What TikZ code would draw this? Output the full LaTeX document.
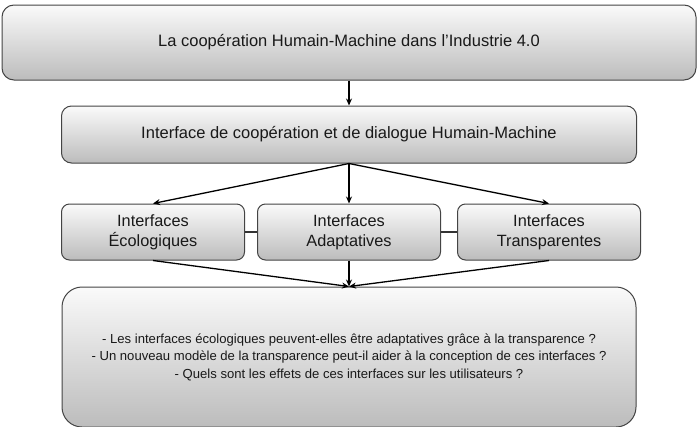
\documentclass[tikz,border=0pt]{standalone}
\usepackage{fontspec}
\setmainfont{Liberation Sans}
\usepackage{tikz}
\usetikzlibrary{arrows.meta, positioning}
\definecolor{boxborder}{RGB}{68, 68, 68}
\definecolor{boxtop}{RGB}{250, 250, 250}
\definecolor{boxbottom}{RGB}{188, 188, 188}
\definecolor{textcol}{RGB}{25, 25, 25}
\tikzset{
  baseblock/.style={
    rectangle, draw=boxborder, line width=1pt,
    top color=boxtop, bottom color=boxbottom,
    align=center, text=textcol, inner sep=0pt
  },
  titleblock/.style={baseblock, rounded corners=12pt, font=\fontsize{16.5}{19}\selectfont},
  layerblock/.style={baseblock, rounded corners=10pt, font=\fontsize{16.5}{19}\selectfont},
  familyblock/.style={baseblock, rounded corners=8pt, minimum width=183pt, minimum height=56pt,
    font=\fontsize{16.3}{20}\selectfont},
  questionblock/.style={baseblock, rounded corners=20pt, font=\fontsize{13.1}{17.5}\selectfont},
  flowline/.style={draw=black, -{Stealth[length=7pt, width=6pt]}, line width=1.3pt},
  linkline/.style={draw=black!80, line width=1.3pt}
}
\begin{document}
\begin{tikzpicture}[x=1pt, y=-1pt, node distance=25pt and 12pt]
  \useasboundingbox (0,0) rectangle (698,426);

  % Level 1: overall theme
  \node[titleblock, minimum width=694pt, minimum height=75pt] (theme) at (349,42.5)
    {La coopération Humain-Machine dans l’Industrie 4.0};

  % Level 2: cooperation interface
  \node[layerblock, below=25pt of theme, minimum width=575pt, minimum height=57pt] (dialogue)
    {Interface de coopération et de dialogue Humain-Machine};

  % Level 3: three interface families
  \node[familyblock, below=40pt of dialogue] (adapt) {Interfaces\\Adaptatives};
  \node[familyblock, left=12pt of adapt] (eco) {Interfaces\\Écologiques};
  \node[familyblock, right=16pt of adapt] (transp) {Interfaces\\Transparentes};

  % Level 4: research questions
  \node[questionblock, below=26pt of adapt, minimum width=574pt, minimum height=140pt] (questions) {
    - Les interfaces écologiques peuvent-elles être adaptatives grâce à la transparence ?\\
    - Un nouveau modèle de la transparence peut-il aider à la conception de ces interfaces ?\\
    - Quels sont les effets de ces interfaces sur les utilisateurs ?
  };

  % Links between families
  \draw[linkline] (eco.east) -- (adapt.west);
  \draw[linkline] (adapt.east) -- (transp.west);

  % Flows
  \draw[flowline] (theme.south) -- (dialogue.north);
  \draw[flowline] (dialogue.south) -- (eco.north);
  \draw[flowline] (dialogue.south) -- (adapt.north);
  \draw[flowline] (dialogue.south) -- (transp.north);
  \draw[flowline] (eco.south) -- (questions.north);
  \draw[flowline] (adapt.south) -- (questions.north);
  \draw[flowline] (transp.south) -- (questions.north);
\end{tikzpicture}
\end{document}
